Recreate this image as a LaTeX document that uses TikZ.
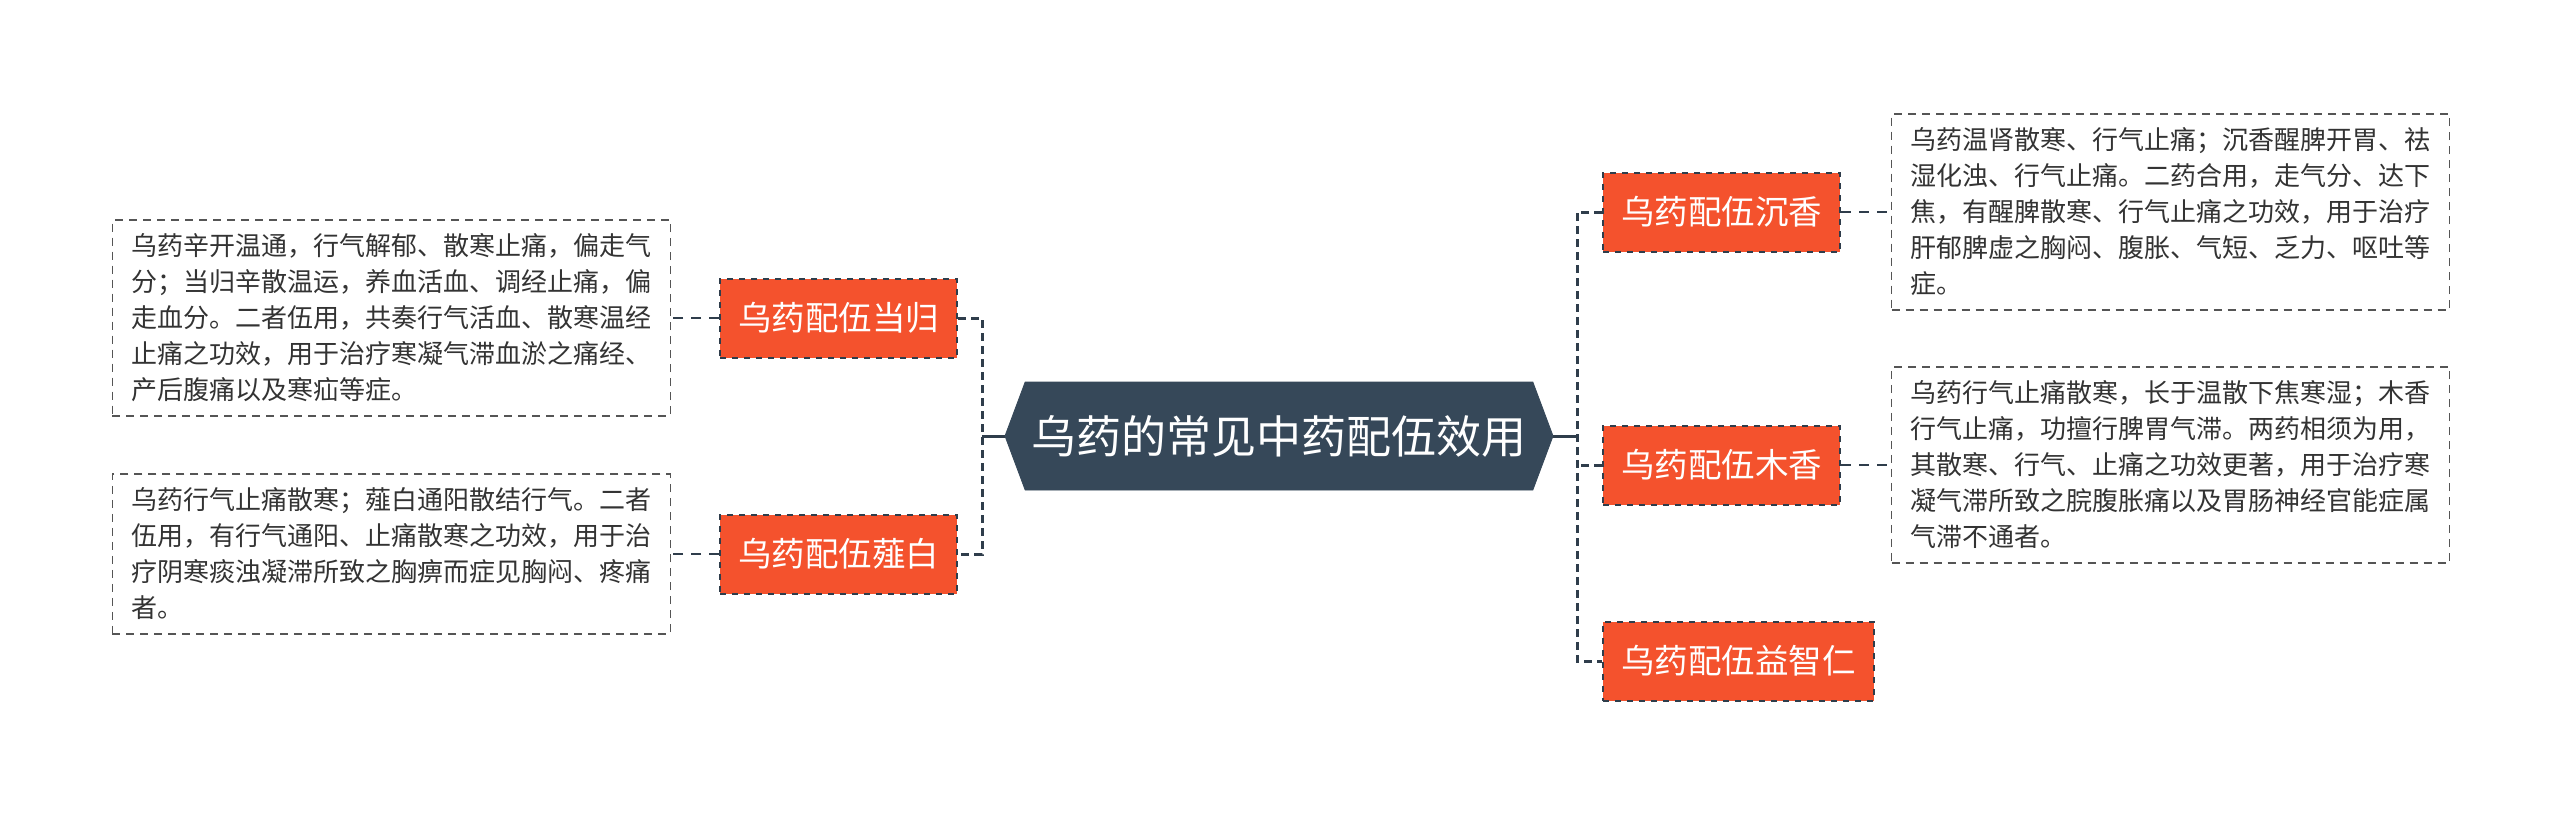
\documentclass[tikz,border=0pt]{standalone}
\usepackage{fontspec}
\setmainfont{Noto Sans CJK SC}
\usetikzlibrary{positioning, shapes.symbols}
\definecolor{topicdark}{HTML}{364859}
\definecolor{linedark}{HTML}{2F3D4B}
\definecolor{branchorange}{HTML}{F4522D}
\definecolor{notegray}{HTML}{555555}
\definecolor{notetext}{HTML}{333333}

\begin{document}
\begin{tikzpicture}[
    x=0.5pt, y=-0.5pt,
    every node/.style={inner sep=0pt},
    topic/.style={signal, signal to=west and east, signal pointer angle=139, fill=topicdark, draw=topicdark, text=white, minimum width=274pt, minimum height=54pt, font=\fontsize{22.5pt}{27pt}\selectfont},
    branch/.style={rectangle, fill=branchorange, draw=linedark, dashed, line width=1pt, text=white, inner xsep=9pt, minimum height=39.5pt, font=\fontsize{16.75pt}{20pt}\selectfont},
    note/.style={rectangle, draw=notegray, dash pattern=on 4pt off 3pt, line width=0.7pt, text=notetext, align=left, minimum width=279pt, inner ysep=7pt, font=\fontsize{13pt}{18pt}\selectfont},
    trunk/.style={draw=linedark, line width=1.5pt, dash pattern=on 4pt off 2.5pt},
    stem/.style={draw=linedark, line width=1.5pt},
    leaf/.style={draw=linedark, line width=0.8pt, dash pattern=on 5pt off 4pt}
]
\fill[white] (0,0) rectangle (2560,814);
\useasboundingbox (0,0) rectangle (2560,814);

\node[topic] (root) at (1279,436) {乌药的常见中药配伍效用};
\node[branch, anchor=east] (danggui) at (958,318) {乌药配伍当归};
\node[branch, anchor=east] (xiebai) at (958,554) {乌药配伍薤白};
\node[branch, anchor=west] (chenxiang) at (1602,212) {乌药配伍沉香};
\node[branch, anchor=west] (muxiang) at (1602,465) {乌药配伍木香};
\node[branch, anchor=west] (yizhiren) at (1602,661) {乌药配伍益智仁};

\node[note, left=24pt of danggui] (dgnote) {乌药辛开温通，行气解郁、散寒止痛，偏走气\\分；当归辛散温运，养血活血、调经止痛，偏\\走血分。二者伍用，共奏行气活血、散寒温经\\止痛之功效，用于治疗寒凝气滞血淤之痛经、\\产后腹痛以及寒疝等症。};
\node[note, left=24pt of xiebai] (xbnote) {乌药行气止痛散寒；薤白通阳散结行气。二者\\伍用，有行气通阳、止痛散寒之功效，用于治\\疗阴寒痰浊凝滞所致之胸痹而症见胸闷、疼痛\\者。};
\node[note, right=25pt of chenxiang] (cxnote) {乌药温肾散寒、行气止痛；沉香醒脾开胃、祛\\湿化浊、行气止痛。二药合用，走气分、达下\\焦，有醒脾散寒、行气止痛之功效，用于治疗\\肝郁脾虚之胸闷、腹胀、气短、乏力、呕吐等\\症。};
\node[note, right=25pt of muxiang] (mxnote) {乌药行气止痛散寒，长于温散下焦寒湿；木香\\行气止痛，功擅行脾胃气滞。两药相须为用，\\其散寒、行气、止痛之功效更著，用于治疗寒\\凝气滞所致之脘腹胀痛以及胃肠神经官能症属\\气滞不通者。};

\coordinate (lhub) at (982,436);
\coordinate (rhub) at (1577,436);

\draw[stem] (root.west) -- (lhub);
\draw[stem] (root.east) -- (rhub);
\draw[trunk] (danggui.east) -| (lhub) |- (xiebai.east);
\draw[trunk] (chenxiang.west) -| (rhub) |- (yizhiren.west);
\draw[trunk] (muxiang.west) -- (muxiang.west -| rhub);

\draw[leaf] (danggui.west) -- (dgnote.east);
\draw[leaf] (xiebai.west) -- (xbnote.east);
\draw[leaf] (chenxiang.east) -- (cxnote.west);
\draw[leaf] (muxiang.east) -- (mxnote.west);
\end{tikzpicture}
\end{document}
